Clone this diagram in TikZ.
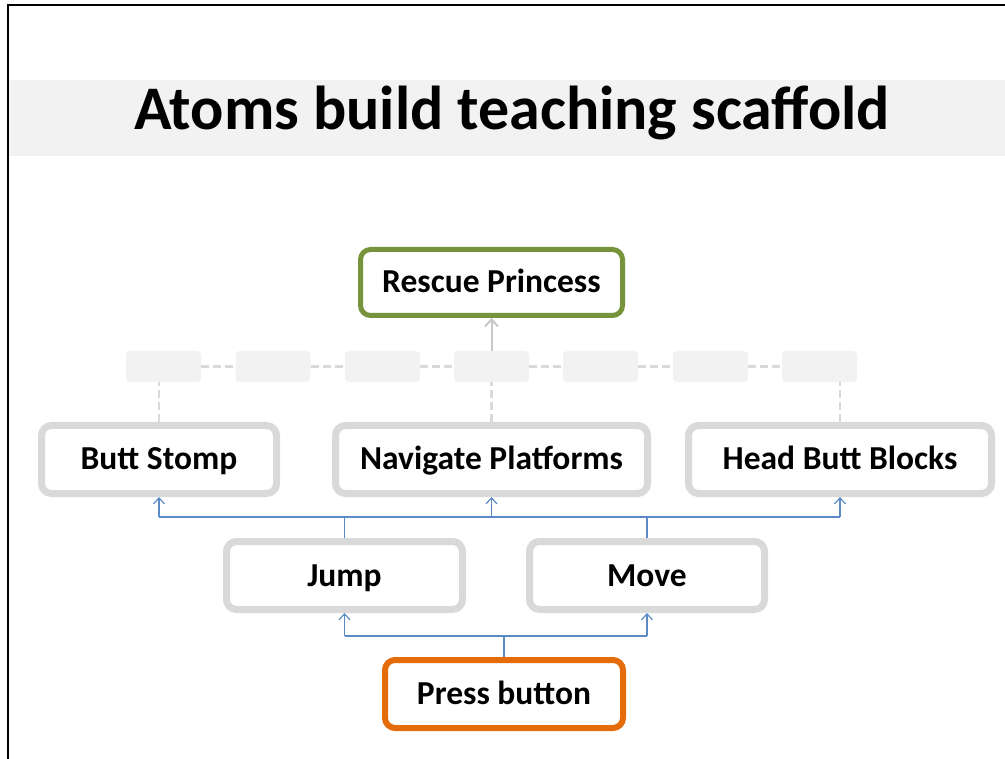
\documentclass[tikz,border=0pt]{standalone}
\usepackage{fontspec}
\setmainfont{Carlito}
\usetikzlibrary{arrows.meta}
\definecolor{lgrey}{HTML}{D9D9D9}
\definecolor{mgrey}{HTML}{C8C8C8}
\definecolor{pale}{HTML}{F2F2F2}
\definecolor{olive}{HTML}{77933C}
\definecolor{orng}{HTML}{E46C0A}
\definecolor{blu}{HTML}{5B8AC6}
\tikzset{
  box/.style={draw=lgrey, line width=7pt, rounded corners=10pt, fill=white, inner sep=0pt,
    minimum height=68pt, text height=21pt, text depth=0pt,
    font=\bfseries\fontsize{33.5}{38}\selectfont},
  phbox/.style={fill=pale, rounded corners=4pt, minimum width=75pt, minimum height=31pt, inner sep=0pt},
  dashline/.style={draw=lgrey, line width=2.5pt, dash pattern=on 8pt off 4pt},
  bline/.style={draw=blu, line width=1.2pt},
  conn/.style={draw=blu, line width=1.2pt, -{Straight Barb[length=6pt,width=11pt,line width=1.2pt]}},
  gconn/.style={draw=mgrey, line width=2pt, -{Straight Barb[length=7pt,width=13pt,line width=2pt]}},
}
\begin{document}
\begin{tikzpicture}[x=1pt,y=-1pt]
\useasboundingbox (0,0) rectangle (1005,759);
% frame and title band
\fill[pale] (9,80) rectangle (1005,156);
\draw[line width=2.5pt] (8,759) -- (8,5) -- (1005,5);
\node[anchor=base, inner sep=0pt, font=\bfseries\fontsize{62}{68}\selectfont] (title) at (512,130) {Atoms build teaching scaffold};

% placeholder row
\foreach \i/\x in {1/163.5,2/273,3/382.5,4/491.5,5/600.5,6/710.5,7/819.5}
  \node[phbox] (ph\i) at (\x,366.5) {};
\foreach \i/\j in {1/2,2/3,3/4,4/5,5/6,6/7}
  \draw[dashline] (ph\i.east) -- (ph\j.west);

% nodes
\node[box, draw=olive, line width=5pt, minimum width=262pt, minimum height=66pt] (rescue) at (491.5,282.5) {Rescue Princess};
\node[box, minimum width=235pt] (bs) at (159,459.5) {Butt Stomp};
\node[box, minimum width=312pt] (nav) at (491.5,459.5) {Navigate Platforms};
\node[box, minimum width=303pt] (hbb) at (840,459.5) {Head Butt Blocks};
\node[box, minimum width=236pt] (jump) at (344.5,575.5) {Jump};
\node[box, minimum width=235pt] (move) at (647,575.5) {Move};
\node[box, draw=orng, line width=6pt, minimum width=238pt] (press) at (504,694) {Press button};

% grey dashed links
\draw[dashline] (bs.north) -- (bs.north |- ph1.south);
\draw[dashline] (nav.north) -- (nav.north |- ph4.south);
\draw[dashline] (hbb.north) -- (hbb.north |- ph7.south);
\draw[gconn] (ph4.north) -- (rescue.south);

% blue connectors
\coordinate (top) at (0,517);
\coordinate (low) at (0,636);
\draw[bline] (jump.north) -- (jump.north |- top);
\draw[bline] (move.north) -- (move.north |- top);
\draw[bline] (bs.south |- top) -- (hbb.south |- top);
\draw[conn] (bs.south |- top) -- (bs.south);
\draw[conn] (nav.south |- top) -- (nav.south);
\draw[conn] (hbb.south |- top) -- (hbb.south);
\draw[bline] (press.north) -- (press.north |- low);
\draw[bline] (jump.south |- low) -- (move.south |- low);
\draw[conn] (jump.south |- low) -- (jump.south);
\draw[conn] (move.south |- low) -- (move.south);
\end{tikzpicture}
\end{document}
